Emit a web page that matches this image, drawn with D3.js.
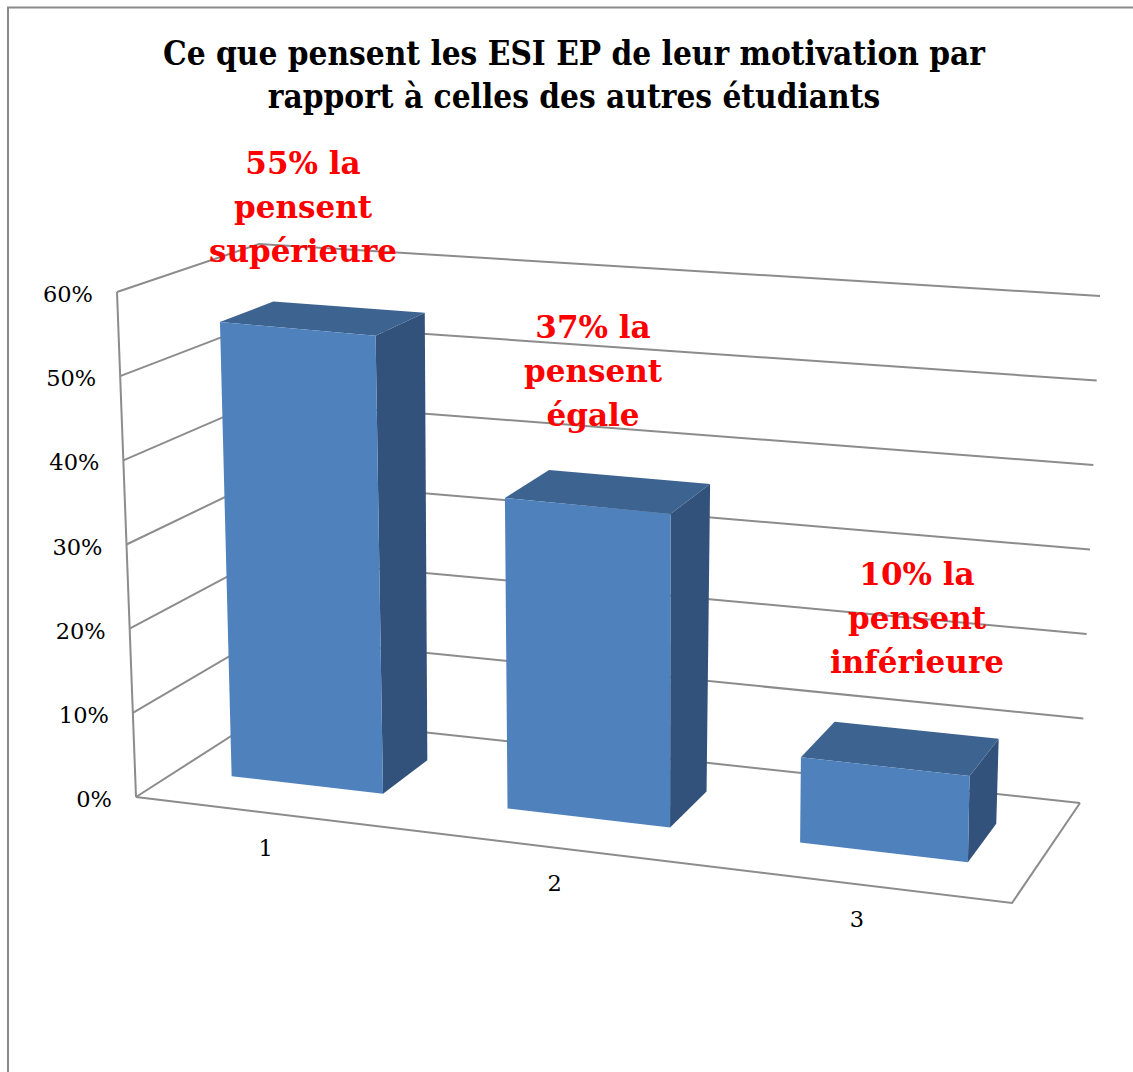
<!DOCTYPE html>
<html>
<head>
<meta charset="utf-8">
<script src="https://cdn.jsdelivr.net/npm/d3@7"></script>
<style>
  body { margin: 0; background: #fff; }
  svg { display: block; }
  .tick { font-family: "DejaVu Serif", serif; fill: #000; }
  .title { font-family: "DejaVu Serif", serif; font-weight: bold; fill: #000; }
  .note { font-family: "DejaVu Serif", serif; font-weight: bold; fill: #ff0000; }
</style>
</head>
<body>
<div id="chart"></div>
<script>
// data
var categories = ["1", "2", "3"];
var values = [0.55, 0.37, 0.10];
var yTicks = [0, 0.1, 0.2, 0.3, 0.4, 0.5, 0.6];
var titleLines = ["Ce que pensent les ESI EP de leur motivation par", "rapport à celles des autres étudiants"];
var notes = [
  ["55% la", "pensent", "supérieure"],
  ["37% la", "pensent", "égale"],
  ["10% la", "pensent", "inférieure"]
];

var width = 1133;
var height = 1072;

var svg = d3.select("#chart")
  .append("svg")
  .attr("width", width)
  .attr("height", height);

// outer border of the chart area (right and bottom run off the page)
svg.append("rect")
  .attr("x", 8).attr("y", 7.5)
  .attr("width", 1400).attr("height", 1400)
  .attr("fill", "none")
  .attr("stroke", "#8a8a8a")
  .attr("stroke-width", 2);

// projected corners of the 3D box (floor = 0, top = 1)
var FL0 = [136, 797], FL1 = [117, 292];
var FR0 = [1012, 903], FR1 = [1020, 378];
var BL0 = [264, 715], BL1 = [259, 244];
var BR0 = [1080, 803], BR1 = [1100, 296];

function lerp(a, b, t) {
  return [a[0] + (b[0] - a[0]) * t, a[1] + (b[1] - a[1]) * t];
}
// rough perspective foreshortening along the category axis
var persp = d3.scalePow().exponent(1.062).domain([0, 1]).range([0, 1]);

// u: along categories, h: height, w: depth (0 front, 1 back)
function proj(u, h, w) {
  u = persp(u);
  var f0 = lerp(FL0, FR0, u), b0 = lerp(BL0, BR0, u);
  var f1 = lerp(FL1, FR1, u), b1 = lerp(BL1, BR1, u);
  return lerp(lerp(f0, b0, w), lerp(f1, b1, w), h);
}

// scales
var xScale = d3.scaleBand()
  .domain(categories)
  .range([0, 1])
  .paddingInner(0.44)
  .paddingOuter(0.22);
var yScale = d3.scaleLinear().domain([0, 0.6]).range([0, 1]);
var barFront = 0.33, barBack = 0.72;

var line = d3.line();

// gridlines : left wall + back wall
var grid = svg.append("g").attr("class", "grid");
grid.selectAll("path.gl")
  .data(yTicks)
  .enter()
  .append("path")
  .attr("class", "gl")
  .attr("d", function(t) {
    var h = yScale(t);
    return line([proj(0, h, 0), proj(0, h, 1), proj(1, h, 1)]);
  });
// vertical axis line and floor outline
grid.append("path").attr("d", line([proj(0, 1, 0), proj(0, 0, 0)]));
grid.append("path").attr("d", line([proj(0, 0, 0), proj(1, 0, 0), proj(1, 0, 1)]));
grid.selectAll("path")
  .attr("fill", "none")
  .attr("stroke", "#8c8c8c")
  .attr("stroke-width", 2)
  .attr("stroke-linejoin", "miter");

// y tick labels
svg.append("g").selectAll("text")
  .data(yTicks)
  .enter()
  .append("text")
  .attr("class", "tick")
  .attr("text-anchor", "end")
  .attr("x", function(t) { return proj(0, yScale(t), 0)[0] - 24; })
  .attr("y", function(t) { return proj(0, yScale(t), 0)[1] + 10; })
  .text(function(t) { return d3.format(".0%")(t); });

// bars
var bars = svg.append("g").selectAll("g")
  .data(categories.map(function(c, i) { return { cat: c, value: values[i] }; }))
  .enter()
  .append("g");

function face(d, which) {
  var u0 = xScale(d.cat), u1 = u0 + xScale.bandwidth();
  var h = yScale(d.value);
  if (which === "front") {
    return line([proj(u0, 0, barFront), proj(u1, 0, barFront), proj(u1, h, barFront), proj(u0, h, barFront)]) + "Z";
  }
  if (which === "side") {
    return line([proj(u1, 0, barFront), proj(u1, 0, barBack), proj(u1, h, barBack), proj(u1, h, barFront)]) + "Z";
  }
  return line([proj(u0, h, barFront), proj(u1, h, barFront), proj(u1, h, barBack), proj(u0, h, barBack)]) + "Z";
}

bars.append("path").attr("d", function(d) { return face(d, "side"); }).attr("fill", "#32527c");
bars.append("path").attr("d", function(d) { return face(d, "top"); }).attr("fill", "#3d6391");
bars.append("path").attr("d", function(d) { return face(d, "front"); }).attr("fill", "#4f81bd");

// category labels under the floor
svg.append("g").selectAll("text")
  .data(categories)
  .enter()
  .append("text")
  .attr("class", "tick")
  .attr("text-anchor", "middle")
  .attr("x", function(c) { return proj(xScale(c) + xScale.bandwidth() / 2, 0, 0)[0] - 1; })
  .attr("y", function(c) { return proj(xScale(c) + xScale.bandwidth() / 2, 0, 0)[1] + 43; })
  .text(function(c) { return c; });

// title
var title = svg.append("g");
title.selectAll("text")
  .data(titleLines)
  .enter()
  .append("text")
  .attr("class", "title")
  .attr("text-anchor", "middle")
  .attr("x", 574)
  .attr("y", function(d, i) { return 65 + i * 43; })
  .text(function(d) { return d; });

// red annotations (free text boxes)
var noteAnchors = [[303, 174], [593, 338], [917, 585]];
var noteG = svg.append("g").selectAll("g")
  .data(notes)
  .enter()
  .append("g")
  .attr("transform", function(d, i) { return "translate(" + noteAnchors[i][0] + "," + noteAnchors[i][1] + ")"; });
noteG.selectAll("text")
  .data(function(d) { return d; })
  .enter()
  .append("text")
  .attr("class", "note")
  .attr("text-anchor", "middle")
  .attr("y", function(d, i) { return i * 44; })
  .text(function(d) { return d; });

// set a font size, then squeeze the group so a reference string has the width of the original
function fitFont(selection, size, refFn, target) {
  selection.style("font-size", size + "px");
  var ref = selection.filter(refFn).node();
  var k = target / ref.getComputedTextLength();
  selection.each(function() {
    var w = this.getComputedTextLength();
    d3.select(this)
      .attr("textLength", w * k)
      .attr("lengthAdjust", "spacingAndGlyphs");
  });
}
fitFont(svg.selectAll("text.title"), 33, function(d, i) { return i === 0; }, 822);
fitFont(svg.selectAll("text.note"), 32, function(d) { return d === "supérieure"; }, 188);
fitFont(svg.selectAll("text.tick"), 22.5, function(d) { return d === 0.6; }, 50);
</script>
</body>
</html>
